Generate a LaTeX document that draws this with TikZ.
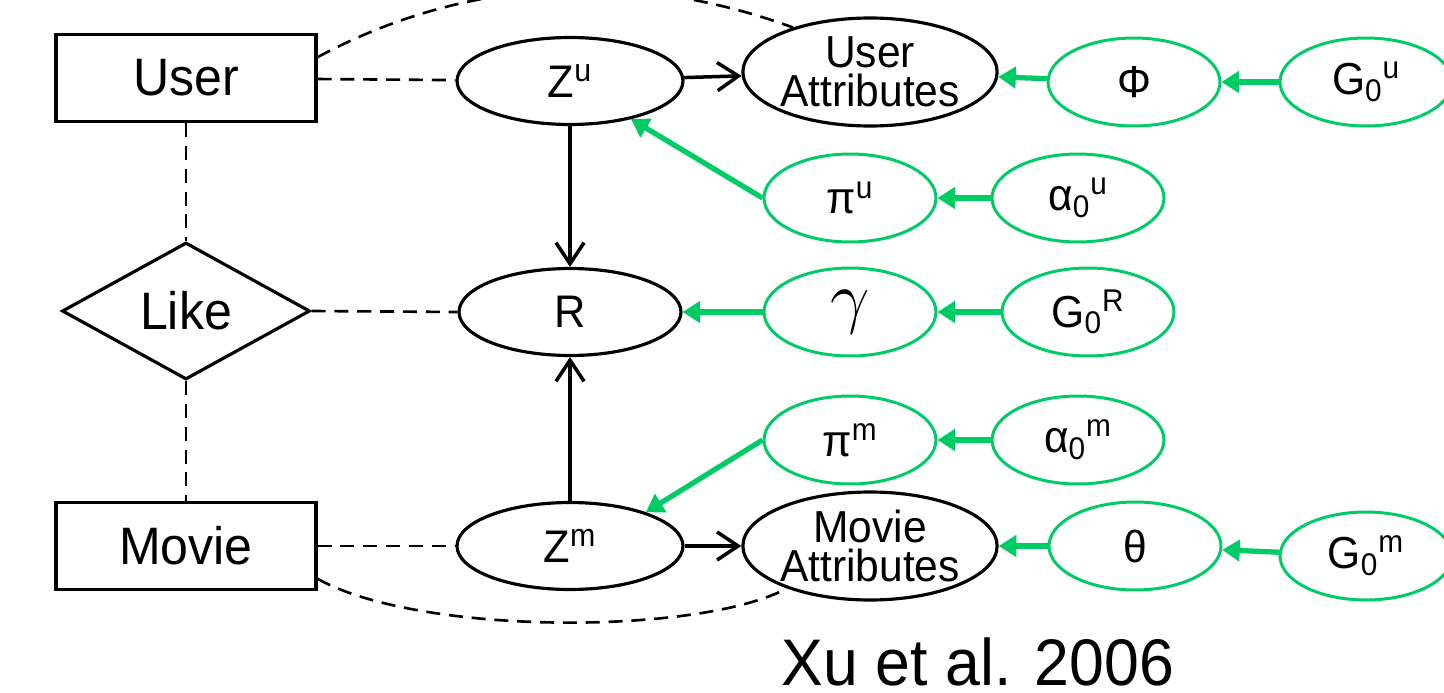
\documentclass[tikz,border=0pt]{standalone}
\usepackage{fontspec}
\setmainfont{Liberation Sans}[FakeStretch=0.95]
\usetikzlibrary{shapes.geometric, arrows.meta, positioning}
\definecolor{prior}{RGB}{0,204,102}
\tikzstyle{entity} = [rectangle, minimum width=5.2cm, minimum height=1.74cm, text centered, draw=black, line width=1.8pt, font=\fontsize{30}{34}\selectfont]
\tikzstyle{relation} = [diamond, minimum width=4.96cm, minimum height=2.74cm, inner sep=0pt, draw=black, line width=1.8pt, font=\fontsize{30}{34}\selectfont]
\tikzstyle{latent} = [ellipse, minimum width=4.52cm, minimum height=1.74cm, inner sep=0pt, draw=black, line width=1.8pt, font=\fontsize{26}{28}\selectfont]
\tikzstyle{observed} = [latent, minimum width=5cm, minimum height=2.16cm, align=center, font=\fontsize{25.5}{22.5}\selectfont]
\tikzstyle{param} = [ellipse, minimum width=3.44cm, minimum height=1.76cm, inner sep=0pt, draw=prior, line width=1.7pt, font=\fontsize{25.5}{28}\selectfont]
\tikzstyle{arrow} = [line width=2pt, -{Straight Barb[length=12pt, width=16pt]}]
\tikzstyle{garrow} = [color=prior, line width=3pt, -{Triangle[length=10pt, width=12pt]}]
\tikzstyle{link} = [line width=1.5pt, dash pattern=on 8pt off 5pt]

\begin{document}
\begin{tikzpicture}[x=0.02cm, y=-0.02cm]
\useasboundingbox (0,0) rectangle (1444,693);
\clip (0,0) rectangle (1444,693);

\node (user) [entity] at (186,78) {User};
\node (like) [relation] at (186,311) {Like};
\node (movie) [entity] at (186,546) {Movie};

\node (zu) [latent] at (570,81) {Z\textsuperscript{u}};
\node (r) [latent, minimum width=4.44cm] at (570,312) {R};
\node (zm) [latent] at (570,546) {Z\textsuperscript{m}};

\node (uattr) [observed] at (870,72) {User\\Attributes};
\node (mattr) [observed] at (870,546) {Movie\\Attributes};

\node (phi) [param] at (1134,82) {Φ};
\node (g0u) [param] at (1366,82) {G\textsubscript{0}\textsuperscript{u}};
\node (piu) [param] at (850,198) {π\textsuperscript{u}};
\node (alphau) [param] at (1078,198) {α\textsubscript{0}\textsuperscript{u}};
\node (gamma) [param] at (850,312) {\scalebox{1.6}{$\gamma$}};
\node (g0r) [param] at (1088,312) {G\textsubscript{0}\textsuperscript{R}};
\node (pim) [param] at (850,440) {π\textsuperscript{m}};
\node (alpham) [param] at (1078,440) {α\textsubscript{0}\textsuperscript{m}};
\node (theta) [param] at (1135,546) {θ};
\node (g0m) [param] at (1366,556) {G\textsubscript{0}\textsuperscript{m}};

\node (cite) [anchor=base, font=\fontsize{37.5}{40}\selectfont] at (978,685) {Xu et al. 2006};

% entity-relationship side
\draw [link] (user) -- (like);
\draw [link] (like) -- (movie);
\draw [link] (user) -- (zu);
\draw [link] (like.east) -- (r.west);
\draw [link] (movie) -- (zm);
\draw [link] (user.9) .. controls (480,-30) and (650,-25) .. (uattr.150);
\draw [link] (movie.-14) .. controls (420,636) and (700,635) .. (mattr.207);

% model
\draw [arrow] (zu) -- (r);
\draw [arrow] (zm) -- (r);
\draw [arrow] (zu) -- (uattr);
\draw [arrow] (zm) -- (mattr);

% priors
\draw [garrow] (phi) -- (uattr);
\draw [garrow] (g0u) -- (phi);
\draw [garrow] (alphau) -- (piu);
\draw [garrow] (piu.west) -- (zu.-32);
\draw [garrow] (gamma) -- (r);
\draw [garrow] (g0r) -- (gamma);
\draw [garrow] (alpham) -- (pim);
\draw [garrow] (pim.west) -- (zm.24);
\draw [garrow] (theta) -- (mattr);
\draw [garrow] (g0m) -- (theta);

\end{tikzpicture}
\end{document}
